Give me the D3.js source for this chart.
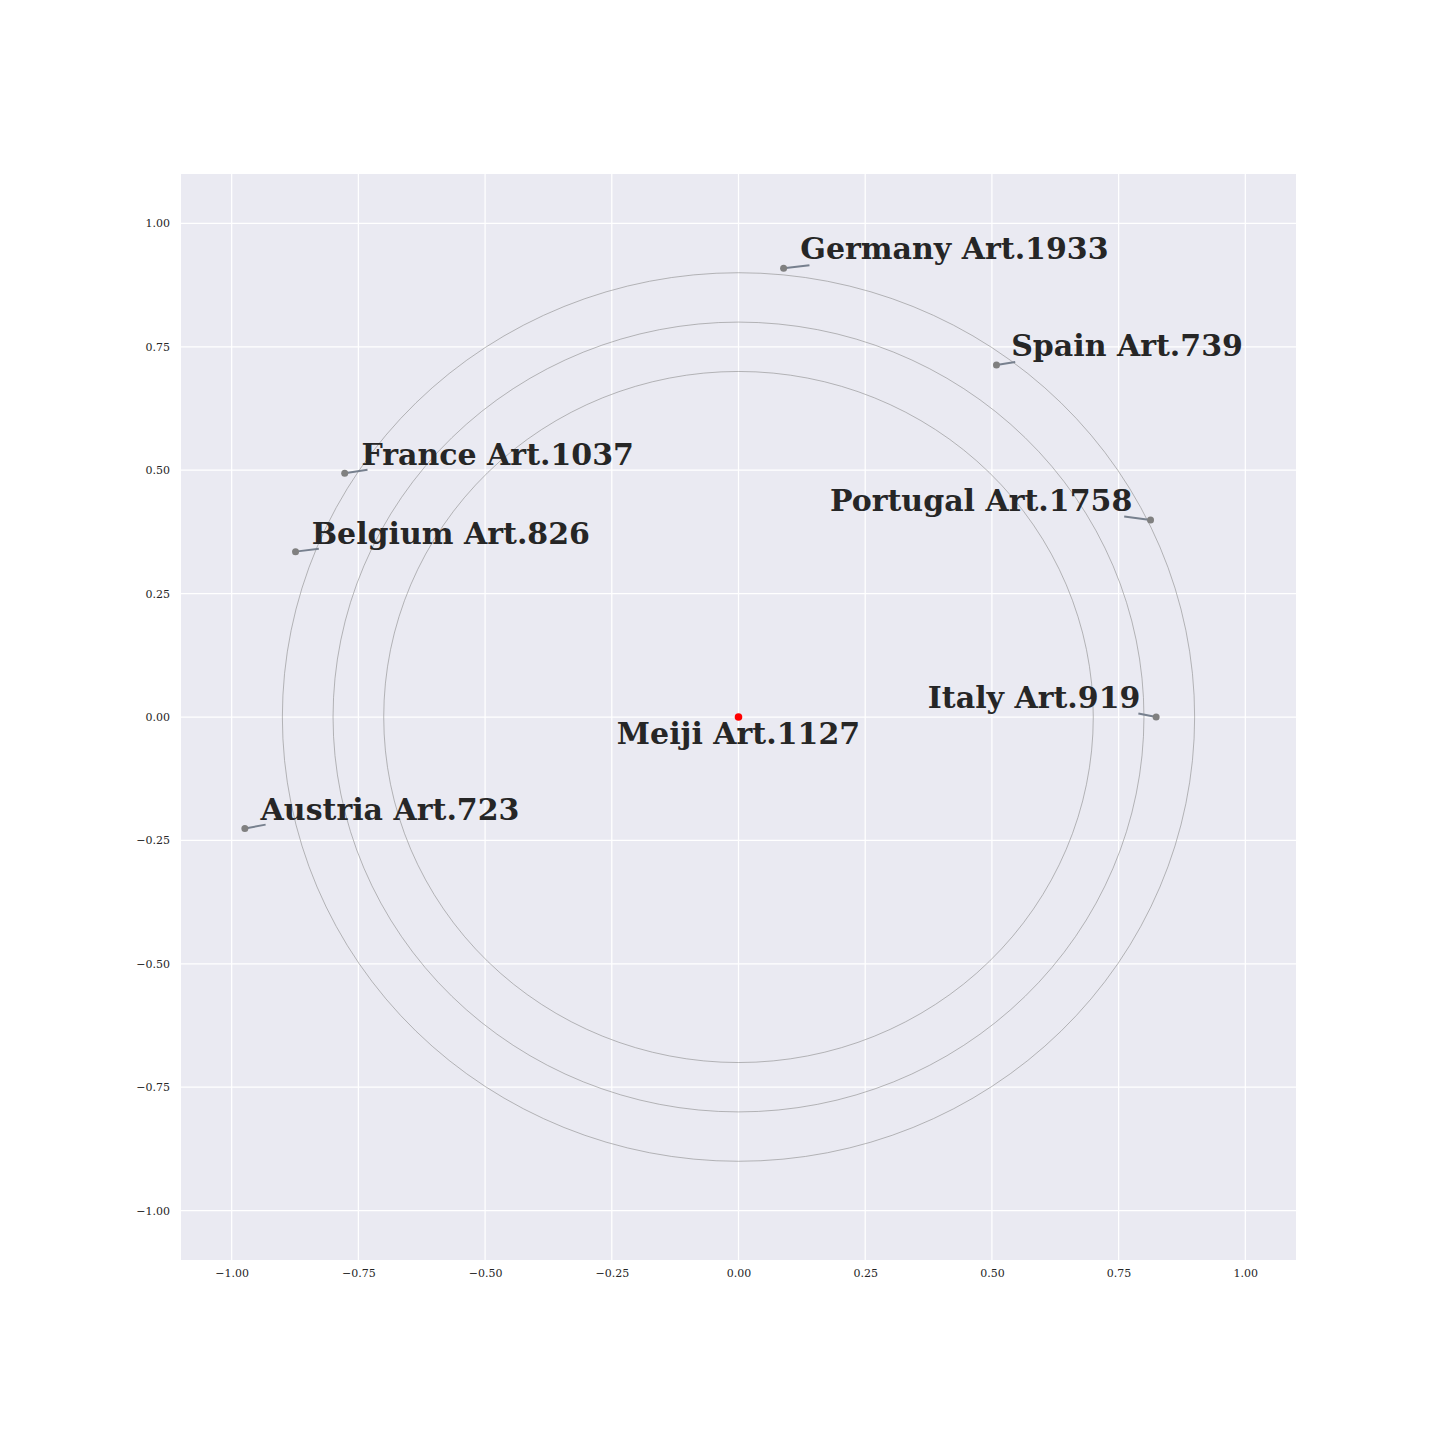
<!DOCTYPE html>
<html>
<head>
<meta charset="utf-8">
<script src="https://cdn.jsdelivr.net/npm/d3@7"></script>
<style>
  html, body { margin: 0; padding: 0; background: #ffffff; }
  svg { display: block; }
</style>
</head>
<body>
<svg id="chart" width="1440" height="1440"></svg>
<script>
// ---- data ----
const names   = ["Germany Art.1933", "Spain Art.739", "France Art.1037", "Belgium Art.826",
                 "Portugal Art.1758", "Italy Art.919", "Austria Art.723"];
const pointX  = [0.089, 0.509, -0.777, -0.874, 0.813, 0.824, -0.974];
const pointY  = [0.909, 0.713, 0.494, 0.335, 0.399, 0.000, -0.226];
// label anchor (data units) and anchor type
const labelX  = [0.122, 0.538, -0.744, -0.842, 0.777, 0.793, -0.943];
const labelY  = [0.927, 0.731, 0.511, 0.351, 0.418, 0.019, -0.209];
const labelAnchor = ["start", "start", "start", "start", "end", "end", "start"];
// connector line end (data units)
const lineX   = [0.140, 0.546, -0.732, -0.828, 0.761, 0.789, -0.933];
const lineY   = [0.915, 0.719, 0.501, 0.341, 0.406, 0.007, -0.218];
const centerName = "Meiji Art.1127";
const centerPoint = [0, 0];
const centerLabel = [0, -0.054];
const ringRadii = [0.7, 0.8, 0.9];
const tickValues = [-1.0, -0.75, -0.5, -0.25, 0.0, 0.25, 0.5, 0.75, 1.0];

// ---- layout ----
const svg = d3.select("#chart");
const L = 181, R = 1296, T = 174, B = 1260;
const x = d3.scaleLinear().domain([-1.1, 1.1]).range([L, R]);
const y = d3.scaleLinear().domain([-1.1, 1.1]).range([B, T]);
const fmt = v => d3.format(".2f")(v).replace("-", "\u2212");

svg.append("rect").attr("x", L).attr("y", T).attr("width", R - L).attr("height", B - T)
  .attr("fill", "#EAEAF2");

const grid = svg.append("g");
grid.selectAll("line.gx").data(tickValues).join("line")
  .attr("x1", d => x(d)).attr("x2", d => x(d)).attr("y1", T).attr("y2", B)
  .attr("stroke", "#ffffff").attr("stroke-width", 1.25);
grid.selectAll("line.gy").data(tickValues).join("line")
  .attr("y1", d => y(d)).attr("y2", d => y(d)).attr("x1", L).attr("x2", R)
  .attr("stroke", "#ffffff").attr("stroke-width", 1.25);

// axes
const xAxis = d3.axisBottom(x).tickValues(tickValues).tickFormat(fmt).tickSize(0).tickPadding(9);
const yAxis = d3.axisLeft(y).tickValues(tickValues).tickFormat(fmt).tickSize(0).tickPadding(11);
const gx = svg.append("g").attr("transform", `translate(0,${B})`).call(xAxis);
const gy = svg.append("g").attr("transform", `translate(${L},0)`).call(yAxis);
[gx, gy].forEach(g => {
  g.select(".domain").remove();
  g.selectAll("text").attr("font-family", "DejaVu Serif").attr("font-size", 11)
    .attr("fill", "#262626");
});

// rings (ellipses in data units)
svg.append("g").selectAll("ellipse").data(ringRadii).join("ellipse")
  .attr("cx", x(0)).attr("cy", y(0))
  .attr("rx", d => x(d) - x(0)).attr("ry", d => y(0) - y(d))
  .attr("fill", "none").attr("stroke", "#8c8c8c").attr("stroke-width", 0.6);

const pts = names.map((n, i) => ({
  name: n, px: pointX[i], py: pointY[i], lx: labelX[i], ly: labelY[i],
  anchor: labelAnchor[i], ex: lineX[i], ey: lineY[i]
}));

// connectors
svg.append("g").selectAll("line").data(pts).join("line")
  .attr("x1", d => x(d.px)).attr("y1", d => y(d.py))
  .attr("x2", d => x(d.ex)).attr("y2", d => y(d.ey))
  .attr("stroke", "#77808e").attr("stroke-width", 2);

// points
svg.append("g").selectAll("circle").data(pts).join("circle")
  .attr("cx", d => x(d.px)).attr("cy", d => y(d.py)).attr("r", 3.5)
  .attr("fill", "#808080");

svg.append("circle").attr("cx", x(centerPoint[0])).attr("cy", y(centerPoint[1]))
  .attr("r", 3.8).attr("fill", "#ff0000");

// labels
svg.append("g").selectAll("text").data(pts).join("text")
  .attr("x", d => x(d.lx)).attr("y", d => y(d.ly))
  .attr("text-anchor", d => d.anchor)
  .attr("font-family", "DejaVu Serif").attr("font-weight", "bold").attr("font-size", 30)
  .attr("fill", "#262626")
  .text(d => d.name);

svg.append("text").attr("x", x(centerLabel[0])).attr("y", y(centerLabel[1]))
  .attr("text-anchor", "middle")
  .attr("font-family", "DejaVu Serif").attr("font-weight", "bold").attr("font-size", 30)
  .attr("fill", "#262626")
  .text(centerName);
</script>
</body>
</html>
